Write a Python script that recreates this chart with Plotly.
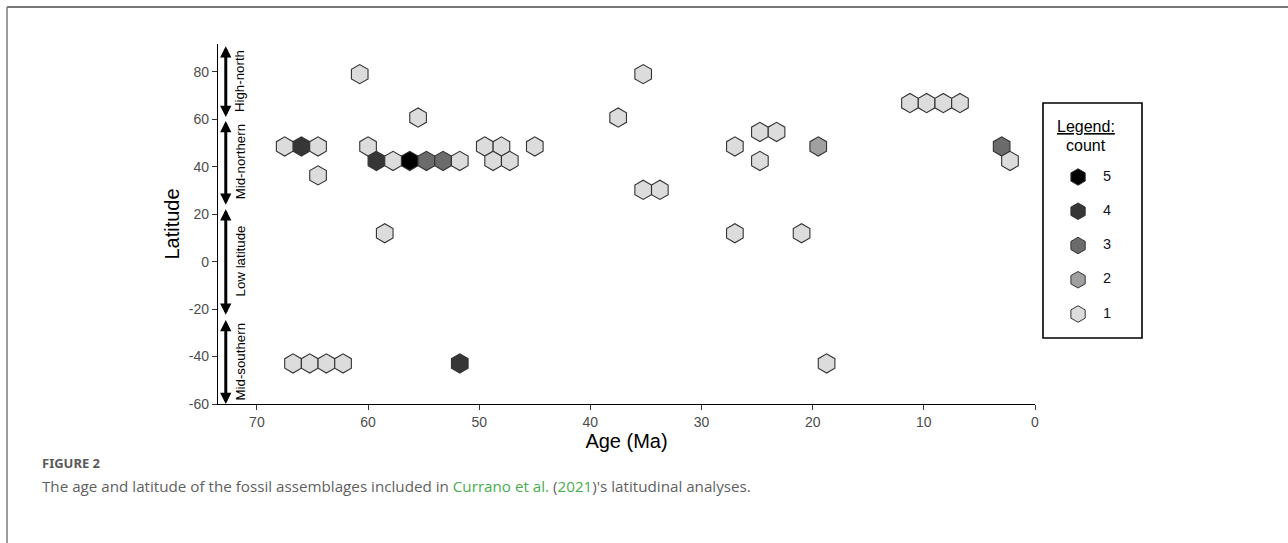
import plotly.graph_objects as go

# ---------------- data ----------------
# hexbin cells: age (Ma), latitude (deg), number of assemblages in cell
ages = [60.75, 35.25,
        11.25, 9.75, 8.25, 6.75,
        55.5, 37.5,
        24.75, 23.25,
        67.5, 66.0, 64.5, 60.0, 49.5, 48.0, 45.0, 27.0, 19.5, 3.0,
        59.25, 57.75, 56.25, 54.75, 53.25, 51.75, 48.75, 47.25, 24.75, 2.25,
        64.5,
        35.25, 33.75,
        58.5, 27.0, 21.0,
        66.75, 65.25, 63.75, 62.25, 51.75, 18.75]
lats = [79.1, 79.1,
        66.9, 66.9, 66.9, 66.9,
        60.8, 60.8,
        54.7, 54.7,
        48.6, 48.6, 48.6, 48.6, 48.6, 48.6, 48.6, 48.6, 48.6, 48.6,
        42.5, 42.5, 42.5, 42.5, 42.5, 42.5, 42.5, 42.5, 42.5, 42.5,
        36.4,
        30.3, 30.3,
        12.0, 12.0, 12.0,
        -42.9, -42.9, -42.9, -42.9, -42.9, -42.9]
counts = [1, 1,
          1, 1, 1, 1,
          1, 1,
          1, 1,
          1, 4, 1, 1, 1, 1, 1, 1, 2, 3,
          4, 1, 5, 3, 3, 1, 1, 1, 1, 1,
          1,
          1, 1,
          1, 1, 1,
          1, 1, 1, 1, 4, 1]

count_levels = [5, 4, 3, 2, 1]
level_colors = ["#000000", "#363636", "#6b6b6b", "#a0a0a0", "#dcdcdc"]

zone_names = ["High-north", "Mid-northern", "Low latitude", "Mid-southern"]
zone_top = [91.5, 60.0, 22.8, -24.0]
zone_bottom = [61.0, 24.0, -22.4, -60.0]

x_ticks = [70, 60, 50, 40, 30, 20, 10, 0]
y_ticks = [80, 60, 40, 20, 0, -20, -40, -60]

# ---------------- layout geometry ----------------
W, H = 1288, 543
ML, MR, MT, MB = 218, 138, 44, 139
PW = W - ML - MR
PH = H - MT - MB


def px_x(p):
    return (p - ML) / PW


def px_y(p):
    return (H - MB - p) / PH


FONT = "Liberation Sans, Arial, Helvetica, sans-serif"
fig = go.Figure()

# hexagon cells, one trace per count level
for lv, col in zip(count_levels, level_colors):
    xs = [a for a, c in zip(ages, counts) if c == lv]
    ys = [l for l, c in zip(lats, counts) if c == lv]
    fig.add_trace(go.Scatter(
        x=xs, y=ys, mode="markers", name=str(lv), showlegend=False,
        marker=dict(symbol="hexagon", size=19.2, color=col,
                    line=dict(color="#333333", width=1.1)),
        xaxis="x", yaxis="y"))

# custom legend (drawn in its own small axes)
fig.add_trace(go.Scatter(
    x=[0.354] * len(count_levels), y=count_levels, mode="markers",
    showlegend=False, hoverinfo="skip",
    marker=dict(symbol="hexagon", size=16.5, color=level_colors,
                line=dict(color="#333333", width=1)),
    xaxis="x2", yaxis="y2"))
fig.add_trace(go.Scatter(
    x=[0.646] * len(count_levels), y=count_levels, mode="text",
    text=[str(v) for v in count_levels], showlegend=False, hoverinfo="skip",
    textfont=dict(family=FONT, size=14.5, color="#111111"),
    xaxis="x2", yaxis="y2"))

annotations = []
# latitude zone arrows and labels
for name, top, bot in zip(zone_names, zone_top, zone_bottom):
    annotations.append(dict(
        x=72.8, y=bot, ax=72.8, ay=top, xref="x", yref="y", axref="x", ayref="y",
        text="", showarrow=True, arrowhead=2, startarrowhead=2,
        arrowside="end+start", arrowwidth=3, arrowsize=0.75,
        startarrowsize=0.75, arrowcolor="black", standoff=0, startstandoff=0))
    annotations.append(dict(
        x=71.5, y=(top + bot) / 2, xref="x", yref="y", text=name,
        textangle=-90, showarrow=False,
        font=dict(family=FONT, size=13.3, color="black")))

# legend title
annotations.append(dict(x=0.434, y=6.46, xref="x2 domain", yref="y2",
                        text="<u>Legend:</u>", showarrow=False,
                        font=dict(family=FONT, size=16, color="black")))
annotations.append(dict(x=0.434, y=5.93, xref="x2 domain", yref="y2",
                        text="count", showarrow=False,
                        font=dict(family=FONT, size=16, color="black")))

# caption
annotations.append(dict(x=px_x(40), y=px_y(463), xref="paper", yref="paper",
                        xanchor="left", yanchor="middle", showarrow=False,
                        text="<b>FIGURE 2</b>",
                        font=dict(family="Noto Sans, Open Sans, sans-serif",
                                  size=13, color="#5a5a5a")))
GREEN = "#49ad4f"
annotations.append(dict(
    x=px_x(40), y=px_y(486), xref="paper", yref="paper",
    xanchor="left", yanchor="middle", showarrow=False,
    text=("The age and latitude of the fossil assemblages included in "
          f"<span style='color:{GREEN}'>Currano et al.</span> "
          f"(<span style='color:{GREEN}'>2021</span>)'s latitudinal analyses."),
    font=dict(family="Open Sans, Noto Sans, sans-serif", size=15.2,
              color="#5f5f5f")))

shapes = [
    # legend box
    dict(type="rect", xref="x2 domain", yref="y2 domain", x0=0, x1=1, y0=0, y1=1,
         line=dict(color="black", width=1.6), fillcolor="rgba(0,0,0,0)"),
    # page frame (top and left rule)
    dict(type="line", xref="paper", yref="paper", x0=px_x(7), x1=px_x(W),
         y0=px_y(7), y1=px_y(7), line=dict(color="#4a4a4a", width=1.5)),
    dict(type="line", xref="paper", yref="paper", x0=px_x(7), x1=px_x(7),
         y0=px_y(7), y1=px_y(H), line=dict(color="#7a7a7a", width=1.5)),
]

axis_common = dict(showgrid=False, zeroline=False, showline=True,
                   linecolor="black", linewidth=1.2, ticks="outside",
                   ticklen=5, tickwidth=1, tickcolor="#333333",
                   tickfont=dict(family=FONT, size=14, color="#4d4d4d"))

fig.update_layout(
    width=W, height=H,
    margin=dict(l=ML, r=MR, t=MT, b=MB, pad=0),
    paper_bgcolor="white", plot_bgcolor="white",
    xaxis=dict(domain=[0, (1035 - ML) / PW], range=[73.5, 0],
               tickvals=x_ticks, ticktext=[str(v) for v in x_ticks],
               title=dict(text="Age (Ma)", standoff=5,
                          font=dict(family=FONT, size=20, color="black")),
               **axis_common),
    yaxis=dict(range=[-60, 91.8], tickvals=y_ticks,
               ticktext=[str(v) for v in y_ticks],
               title=dict(text="Latitude", standoff=3,
                          font=dict(family=FONT, size=20, color="black")),
               **axis_common),
    xaxis2=dict(domain=[px_x(1043), px_x(1142)], range=[0, 1], anchor="y2",
                visible=False, fixedrange=True),
    yaxis2=dict(domain=[px_y(338), px_y(103)], range=[0.30, 7.16], anchor="x2",
                visible=False, fixedrange=True),
    annotations=annotations,
    shapes=shapes,
    showlegend=False,
)

fig.write_html("out.html",
               config={"displayModeBar": False},
               post_script="document.body.style.margin='0';"
                           "document.body.style.padding='0';")
